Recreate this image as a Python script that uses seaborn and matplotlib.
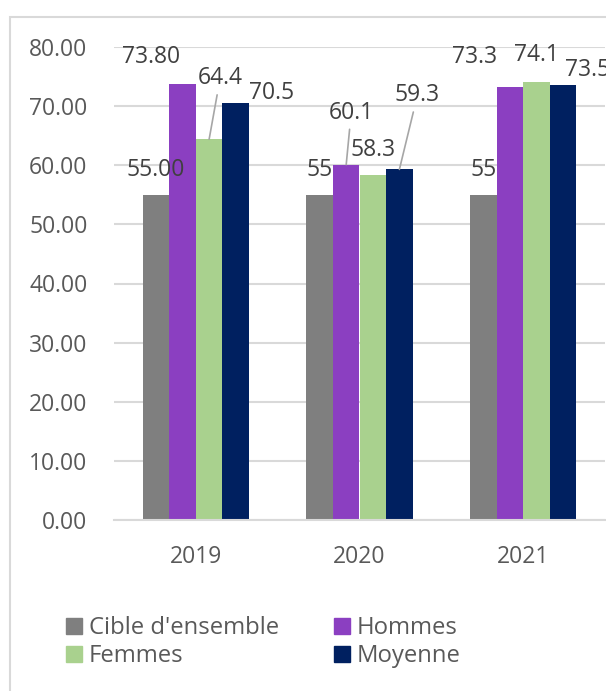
# Bar chart: Cible d'ensemble / Hommes / Femmes / Moyenne by year
import pandas as pd
import numpy as np
import matplotlib.pyplot as plt
import seaborn as sns
from matplotlib.lines import Line2D
from matplotlib.patches import Rectangle

# Data
years = ["2019", "2020", "2021"]
series = ["Cible d'ensemble", "Hommes", "Femmes", "Moyenne"]
cible = [55.00, 55.00, 55.00]
hommes = [73.80, 60.1, 73.3]
femmes = [64.4, 58.3, 74.1]
moyenne = [70.5, 59.3, 73.5]
label_text = [
    ["55.00", "55", "55"],
    ["73.80", "60.1", "73.3"],
    ["64.4", "58.3", "74.1"],
    ["70.5", "59.3", "73.5"],
]
colors = ["#7f7f7f", "#8b3fc1", "#a9d18e", "#002060"]

# label offsets in pixels from bar top (dx, dy) and whether a leader line is drawn
offsets = [
    [(0, 25), (0, 25), (0, 25)],
    [(-31, 27), (5, 52), (-35, 30)],
    [(11, 61), (0, 25), (0, 27)],
    [(36, 10), (18, 74), (25, 15)],
]
leaders = [
    [False, False, False],
    [False, True, False],
    [True, False, False],
    [False, True, False],
]

data = pd.DataFrame({
    "year": years * 4,
    "series": np.repeat(series, 3),
    "value": cible + hommes + femmes + moyenne,
})

sns.set_style("white")
plt.rcParams["font.family"] = ["Open Sans", "DejaVu Sans"]

fig = plt.figure(figsize=(6.06, 6.91), dpi=100)
ax = fig.add_axes([114 / 606, 1 - 520 / 691, 491 / 606, 473 / 691])

sns.barplot(data=data, x="year", y="value", hue="series", palette=colors,
            saturation=1, width=0.65, linewidth=0, ax=ax, legend=False)

ax.set_xlim(-0.5, 2.5)
ax.set_ylim(0, 80)
ax.set_yticks(np.arange(0, 81, 10))
ax.set_yticklabels([f"{v:.2f}" for v in np.arange(0, 81, 10)])
ax.set_xlabel("")
ax.set_ylabel("")
ax.grid(axis="y", color="#d9d9d9", linewidth=1.5)
ax.set_axisbelow(True)
for side in ["left", "right", "top"]:
    ax.spines[side].set_visible(False)
ax.spines["bottom"].set_color("#d9d9d9")
ax.spines["bottom"].set_linewidth(1.5)
ax.tick_params(axis="y", length=0, pad=19, labelsize=16.5, labelcolor="#595959")
ax.tick_params(axis="x", length=0, pad=18, labelsize=16.5, labelcolor="#595959")

# Data labels
for j, cont in enumerate(ax.containers):
    for i, bar in enumerate(cont):
        bx = bar.get_x() + bar.get_width() / 2
        by = bar.get_height()
        arrow = None
        if leaders[j][i]:
            arrow = dict(arrowstyle="-", color="#a6a6a6", lw=1.2, shrinkA=1, shrinkB=0)
        ax.annotate(label_text[j][i], xy=(bx, by), xytext=offsets[j][i],
                    textcoords="offset pixels", ha="center", va="center",
                    fontsize=16.5, color="#404040", arrowprops=arrow,
                    annotation_clip=False)

# Legend
handles = [Line2D([], [], marker="s", linestyle="none", markersize=11,
                  markerfacecolor=c, markeredgecolor=c) for c in colors]
order = [0, 2, 1, 3]
fig.legend([handles[k] for k in order], [series[k] for k in order],
           loc="upper left", bbox_to_anchor=(66 / 606, 1 - 616 / 691), ncol=2,
           frameon=False, fontsize=17.2, handlelength=0.7, handletextpad=0.25,
           columnspacing=2.3, labelspacing=0.18, labelcolor="#595959",
           borderaxespad=0, borderpad=0)

# Chart border
fig.patches.append(Rectangle((10 / 606, -0.1), 1.2, 1 - 17 / 691 + 0.1,
                             transform=fig.transFigure, fill=False,
                             edgecolor="#d9d9d9", linewidth=1.5))

fig.savefig("out.png", dpi=100)
